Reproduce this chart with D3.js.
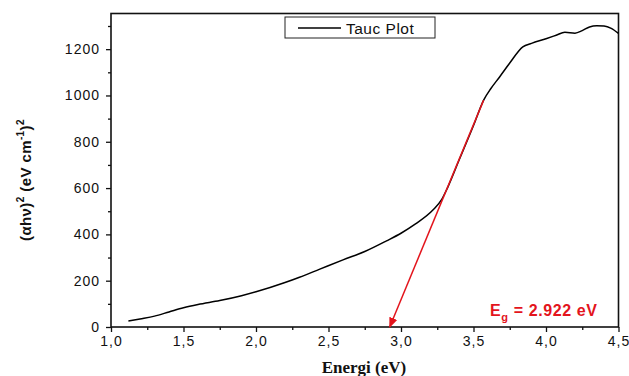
<!DOCTYPE html>
<html>
<head>
<meta charset="utf-8">
<script src="https://cdn.jsdelivr.net/npm/d3@7"></script>
<style>
  body { margin: 0; background: #fff; }
  text { font-family: Arial, "Liberation Sans", sans-serif; }
</style>
</head>
<body>
<svg id="chart" width="629" height="376"></svg>
<script>
// Tauc plot data
var energy = [1.12, 1.2, 1.3, 1.4, 1.5, 1.6, 1.75, 1.9, 2.0, 2.2, 2.3, 2.44, 2.6, 2.75, 2.9, 3.0, 3.1, 3.22, 3.28, 3.32, 3.4, 3.5, 3.57, 3.62, 3.68, 3.75, 3.84, 3.9, 4.0, 4.07, 4.13, 4.2, 4.25, 4.3, 4.35, 4.4, 4.45, 4.5];
var tauc = [26, 35, 47, 65, 83, 97, 114, 135, 152, 192, 215, 250, 290, 326, 372, 405, 445, 505, 550, 600, 720, 870, 980, 1030, 1080, 1140, 1210, 1225, 1245, 1260, 1273, 1269, 1280, 1296, 1301, 1300, 1290, 1268];
// linear fit, drawn from upper point down to the x-intercept
var fitX = [3.57, 2.922];
var fitY = [980, 0];
var xTicks = [1.0, 1.5, 2.0, 2.5, 3.0, 3.5, 4.0, 4.5];
var yTicks = [0, 200, 400, 600, 800, 1000, 1200];

var svg = d3.select("#chart");
var pLeft = 111, pRight = 618.5, pTop = 13.5, pBottom = 327;

var x = d3.scaleLinear().domain([1.0, 4.5]).range([pLeft, pRight]);
var y = d3.scaleLinear().domain([0, 1354]).range([pBottom, pTop]);

var fmt = function (d) { return d3.format(".1f")(d).replace(".", ","); };

// minor ticks
svg.append("g")
    .attr("transform", "translate(0," + pBottom + ")")
    .call(d3.axisBottom(x).tickValues(d3.range(1.25, 4.5, 0.5)).tickSize(3).tickFormat(""))
    .call(function (g) { g.select(".domain").remove(); });
svg.append("g")
    .attr("transform", "translate(" + pLeft + ",0)")
    .call(d3.axisLeft(y).tickValues(d3.range(100, 1400, 200)).tickSize(3).tickFormat(""))
    .call(function (g) { g.select(".domain").remove(); });

// major axes
var xAxis = svg.append("g")
    .attr("transform", "translate(0," + pBottom + ")")
    .call(d3.axisBottom(x).tickValues(xTicks).tickSize(5).tickPadding(4).tickFormat(fmt));
var yAxis = svg.append("g")
    .attr("transform", "translate(" + pLeft + ",0)")
    .call(d3.axisLeft(y).tickValues(yTicks).tickSize(5).tickPadding(6).tickFormat(d3.format("d")));

[xAxis, yAxis].forEach(function (g) {
    g.selectAll("text").style("font-size", "14px").attr("fill", "#111").attr("letter-spacing", "1px");
    g.select(".domain").remove();
});
svg.selectAll("g line").attr("stroke", "#111").attr("stroke-width", 1.3);

// frame
svg.append("rect")
    .attr("x", pLeft).attr("y", pTop)
    .attr("width", pRight - pLeft).attr("height", pBottom - pTop)
    .attr("fill", "none").attr("stroke", "#111").attr("stroke-width", 1.6);

// curve
var line = d3.line().x(function (d, i) { return x(energy[i]); }).y(function (d) { return y(d); }).curve(d3.curveMonotoneX);
svg.append("path").datum(tauc)
    .attr("d", line)
    .attr("fill", "none").attr("stroke", "#000").attr("stroke-width", 1.5);

// fit line with arrow
svg.append("defs").append("marker")
    .attr("id", "arr").attr("viewBox", "0 0 10 10")
    .attr("refX", 9).attr("refY", 5)
    .attr("markerWidth", 7).attr("markerHeight", 7)
    .attr("orient", "auto")
    .append("path").attr("d", "M0,1 L10,5 L0,9 Z").attr("fill", "#e3141c");
svg.append("line")
    .attr("x1", x(fitX[0])).attr("y1", y(fitY[0]))
    .attr("x2", x(fitX[1])).attr("y2", y(fitY[1]))
    .attr("stroke", "#e3141c").attr("stroke-width", 1.5)
    .attr("marker-end", "url(#arr)");

// legend
svg.append("rect").attr("x", 285).attr("y", 17).attr("width", 150).attr("height", 21)
    .attr("fill", "#fff").attr("stroke", "#222").attr("stroke-width", 1);
svg.append("line").attr("x1", 298).attr("x2", 341).attr("y1", 28).attr("y2", 28)
    .attr("stroke", "#000").attr("stroke-width", 1.5);
svg.append("text").attr("x", 346).attr("y", 33.5)
    .style("font-size", "15.5px").attr("fill", "#111").attr("letter-spacing", "0.5px").text("Tauc Plot");

// band gap label
var eg = svg.append("text").attr("x", 490).attr("y", 316)
    .style("font-size", "16px").style("font-weight", "bold").attr("fill", "#e3141c").attr("letter-spacing", "0.6px");
eg.append("tspan").text("E");
eg.append("tspan").attr("dy", 5).style("font-size", "11px").text("g");
eg.append("tspan").attr("dy", -5).text(" = 2.922 eV");

// axis titles
svg.append("text").attr("x", 364).attr("y", 373).attr("text-anchor", "middle")
    .style("font-family", "'Liberation Serif', 'Times New Roman', serif")
    .style("font-size", "17px").style("font-weight", "bold").attr("fill", "#111")
    .text("Energi (eV)");

var yt = svg.append("text").attr("transform", "translate(31,180) rotate(-90)")
    .attr("text-anchor", "middle").attr("letter-spacing", "0.4px")
    .style("font-size", "15px").style("font-weight", "bold").attr("fill", "#111");
yt.append("tspan").text("(αhν)");
yt.append("tspan").attr("dy", -7).style("font-size", "10px").text("2");
yt.append("tspan").attr("dy", 7).text(" (eV cm");
yt.append("tspan").attr("dy", -7).style("font-size", "10px").text("-1");
yt.append("tspan").attr("dy", 7).text(")");
yt.append("tspan").attr("dy", -7).style("font-size", "10px").text("2");
</script>
</body>
</html>
